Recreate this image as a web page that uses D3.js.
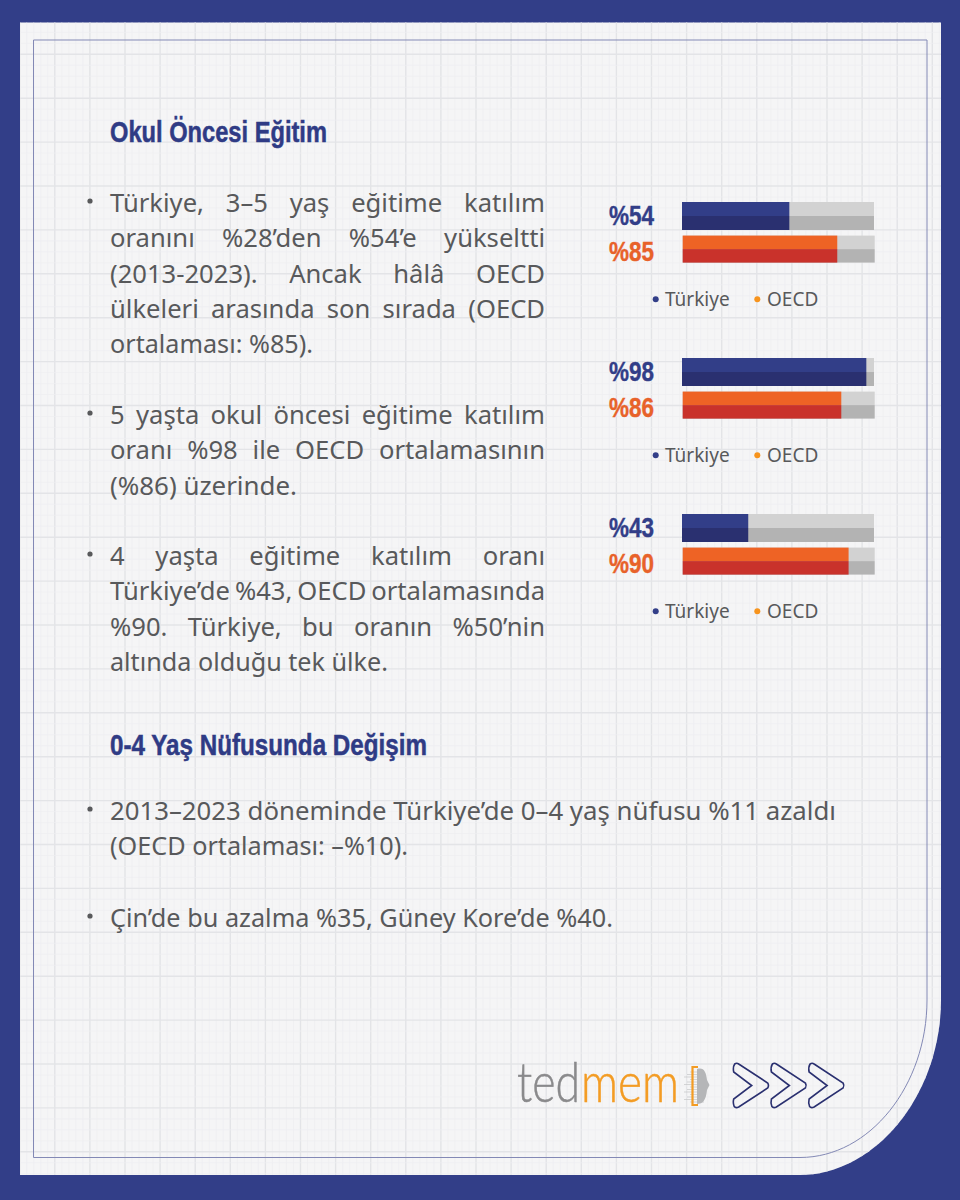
<!DOCTYPE html>
<html>
<head>
<meta charset="utf-8">
<script src="https://cdn.jsdelivr.net/npm/d3@7"></script>
<style>
  html, body { margin: 0; padding: 0; background: #fff; }
  svg { display: block; }
  .heading { font-family: "Liberation Sans", sans-serif; font-weight: 700; font-size: 30px; fill: #2f3b85; stroke: #2f3b85; stroke-width: 0.5px; }
  .body { font-family: "Noto Sans", sans-serif; font-size: 25.6px; fill: #58595b; }
  .pct { font-family: "Liberation Sans", sans-serif; font-weight: 700; font-size: 28.5px; stroke-width: 0.4px; }
  .legend { font-family: "Noto Sans", sans-serif; font-size: 19px; fill: #58595b; }
  .logo { font-family: Lato, "Open Sans", sans-serif; font-weight: 300; font-size: 55px; stroke-width: 0.5px; }
</style>
</head>
<body>
<div id="chart"></div>
<script>
const groups = ["3-5 yaş", "5 yaş", "4 yaş"]
// printed labels
const turkiye = [54, 98, 43]
const oecd = [85, 86, 90]
// the bars in the picture are not drawn to the printed numbers, these are the measured fills
const turkiyeFill = [55.9, 96, 34.5]
const oecdFill = [80.5, 82.6, 86.4]
const legendLabels = ["Türkiye", "OECD"]

const heading1 = "Okul Öncesi Eğitim"
const heading2 = "0-4 Yaş Nüfusunda Değişim"

const para1 = [
  "Türkiye, 3–5 yaş eğitime katılım",
  "oranını %28’den %54’e yükseltti",
  "(2013-2023). Ancak hâlâ OECD",
  "ülkeleri arasında son sırada (OECD",
  "ortalaması: %85)."
]
const para2 = [
  "5 yaşta okul öncesi eğitime katılım",
  "oranı %98 ile OECD ortalamasının",
  "(%86) üzerinde."
]
const para3 = [
  "4 yaşta eğitime katılım oranı",
  "Türkiye’de %43, OECD ortalamasında",
  "%90. Türkiye, bu oranın %50’nin",
  "altında olduğu tek ülke."
]
const para4 = [
  "2013–2023 döneminde Türkiye’de 0–4 yaş nüfusu %11 azaldı",
  "(OECD ortalaması: –%10)."
]
const para5 = ["Çin’de bu azalma %35, Güney Kore’de %40."]

const width = 960, height = 1200
const navy = "#323e88", navyDark = "#2a3070"
const orange = "#ee6325", red = "#c9322b"
const greyLight = "#d2d2d2", greyDark = "#b3b3b3"
const paperPath = "M20,22.5 H941 V1000 C941,1095 875,1175 800,1175 H20 Z"

const svg = d3.select("#chart").append("svg")
  .attr("width", width).attr("height", height)

// frame + paper
svg.append("rect").attr("width", width).attr("height", height).attr("fill", navy)
svg.append("path").attr("d", paperPath).attr("fill", "#f5f5f6")

// grid, clipped to the paper
svg.append("clipPath").attr("id", "paper").append("path").attr("d", paperPath)
const grid = svg.append("g").attr("clip-path", "url(#paper)")
const xs = d3.range(19.7, 945, 35.1 / 5)
const ys = d3.range(10.4, 1180, 43.9 / 4)
grid.selectAll(".vl").data(xs).join("line")
  .attr("x1", d => d).attr("x2", d => d).attr("y1", 20).attr("y2", 1178)
  .attr("stroke", (d, i) => i % 5 == 0 ? "#e3e4e7" : "#eeeef0")
  .attr("stroke-width", (d, i) => i % 5 == 0 ? 1.4 : 0.7)
grid.selectAll(".hl").data(ys).join("line")
  .attr("y1", d => d).attr("y2", d => d).attr("x1", 20).attr("x2", 945)
  .attr("stroke", (d, i) => i % 4 == 0 ? "#e3e4e7" : "#eeeef0")
  .attr("stroke-width", (d, i) => i % 4 == 0 ? 1.4 : 0.7)

// inner hairline
svg.append("path")
  .attr("d", "M33.5,40 H927 V1000 C927,1085 870,1157.5 800,1157.5 H33.5 Z")
  .attr("fill", "none").attr("stroke", "#8389b5").attr("stroke-width", 1)

// headings
svg.append("text").attr("class", "heading").attr("x", 110).attr("y", 142)
  .attr("textLength", 217).attr("lengthAdjust", "spacingAndGlyphs").text(heading1)
svg.append("text").attr("class", "heading").attr("x", 110).attr("y", 755)
  .attr("textLength", 317).attr("lengthAdjust", "spacingAndGlyphs").text(heading2)

// justified paragraphs: last line stays left aligned, its width is passed in as fit
function paragraph(lines, y, w, fit) {
  const lh = 35.3
  const g = svg.append("g")
  lines.forEach((line, i) => {
    const t = g.append("text").attr("class", "body").attr("x", 110).attr("y", y + i * lh).text(line)
    if (w && i < lines.length - 1) {
      const extra = w - t.node().getComputedTextLength()
      t.attr("word-spacing", extra / (line.split(" ").length - 1))
    } else if (fit[i]) {
      t.attr("textLength", fit[i]).attr("lengthAdjust", "spacingAndGlyphs")
    }
  })
  g.append("circle").attr("cx", 90).attr("cy", y - 11).attr("r", 2.6).attr("fill", "#58595b")
}
paragraph(para1, 212, 435, { 4: 203 })
paragraph(para2, 424, 435, { 2: 187 })
paragraph(para3, 565, 435, { 3: 278 })
paragraph(para4, 820, 0, { 0: 726, 1: 298 })
paragraph(para5, 927, 0, { 0: 503 })

// bar blocks
const x = d3.scaleLinear().domain([0, 100]).range([0, 192])
const blockTops = [202, 358, 514]

function bar(g, value, x0, y0, h, top, bottom) {
  const layers = [
    { v: 100, y: y0, c: greyLight }, { v: 100, y: y0 + h / 2, c: greyDark },
    { v: value, y: y0, c: top }, { v: value, y: y0 + h / 2, c: bottom }
  ]
  g.selectAll(null).data(layers).join("rect")
    .attr("x", x0).attr("y", d => d.y)
    .attr("width", d => x(d.v)).attr("height", h / 2)
    .attr("fill", d => d.c)
}

groups.forEach((name, i) => {
  const g = svg.append("g").attr("data-group", name)
  const y0 = blockTops[i]
  bar(g, turkiyeFill[i], 682, y0, 28, navy, navyDark)
  bar(g, oecdFill[i], 682.7, y0 + 33.6, 27, orange, red)
  g.append("text").attr("class", "pct").attr("x", 609).attr("y", y0 + 22.5)
    .attr("textLength", 45).attr("lengthAdjust", "spacingAndGlyphs")
    .attr("fill", navy).attr("stroke", navy).text("%" + turkiye[i])
  g.append("text").attr("class", "pct").attr("x", 609).attr("y", y0 + 59)
    .attr("textLength", 45).attr("lengthAdjust", "spacingAndGlyphs")
    .attr("fill", "#e8622a").attr("stroke", "#e8622a").text("%" + oecd[i])

  const ly = y0 + 104
  g.append("circle").attr("cx", 655.7).attr("cy", ly - 6.7).attr("r", 3).attr("fill", navy)
  g.append("text").attr("class", "legend").attr("x", 665).attr("y", ly).text(legendLabels[0])
  g.append("circle").attr("cx", 757.3).attr("cy", ly - 6.7).attr("r", 3).attr("fill", "#f7941d")
  g.append("text").attr("class", "legend").attr("x", 767).attr("y", ly).text(legendLabels[1])
})

// logo, each word squeezed with a transform so its box stays where the glyphs are
function logoWord(word, x0, w, color) {
  const t = svg.append("text").attr("class", "logo")
    .attr("fill", color).attr("stroke", color).text(word)
  const sx = w / t.node().getComputedTextLength()
  t.attr("transform", `translate(${x0},1102) scale(${sx},1)`)
}
logoWord("ted", 517, 63, "#8a8a8c")
logoWord("mem", 581, 98, "#f39c24")
svg.selectAll(".scan").data(d3.range(1072, 1104, 2.5)).join("line")
  .attr("x1", (d, i) => 690 - (i % 3) * 3).attr("x2", 704)
  .attr("y1", d => d).attr("y2", d => d)
  .attr("stroke", "#c4c5c7").attr("stroke-width", 0.7)
svg.append("path").attr("d", "M697,1069 C704,1067 706,1072 707,1080 L709.5,1085 L707,1090 C706,1100 703,1104 697,1104 Z").attr("fill", "#b5b6b8")
svg.append("path").attr("d", "M698,1067 H692.5 V1105 H698").attr("fill", "none").attr("stroke", "#f39c24").attr("stroke-width", 2.2)

// chevrons
svg.selectAll(".chev").data([0, 37.7, 75.4]).join("path")
  .attr("transform", d => `translate(${732.7 + d},1063)`)
  .attr("d", "M2,1 Q4,-0.5 6,1 L35,20 Q36.5,22.5 35,25 L6,44 Q3,45.5 1.5,43.5 Q0,40 1,36 L19,22.5 L1,9 Q0,4 2,1 Z")
  .attr("fill", "none").attr("stroke", navyDark).attr("stroke-width", 1.6)
</script>
</body>
</html>
